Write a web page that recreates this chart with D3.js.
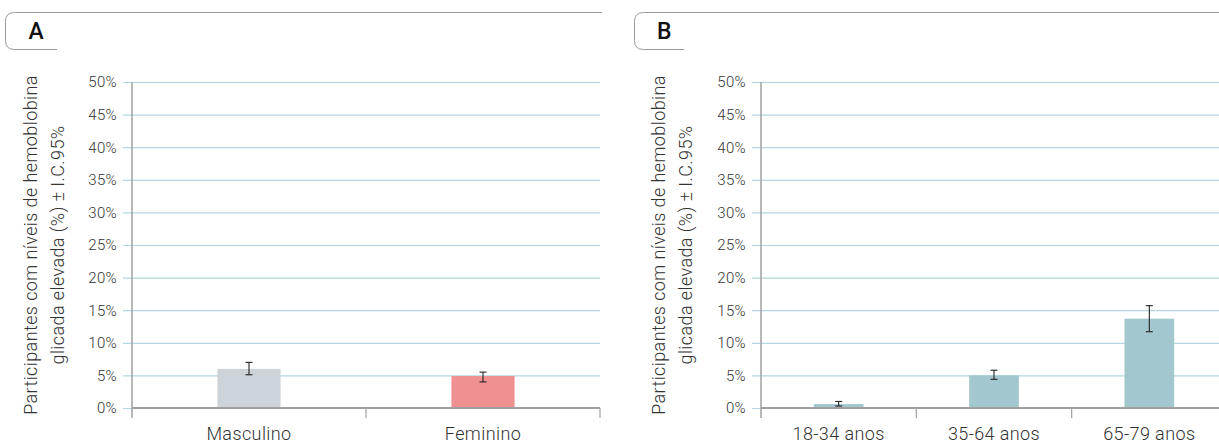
<!DOCTYPE html>
<html>
<head>
<meta charset="utf-8">
<script src="https://cdn.jsdelivr.net/npm/d3@7"></script>
<style>
  html, body { margin: 0; padding: 0; background: #fff; }
  svg { display: block; }
  text { font-family: Roboto, "Liberation Sans", sans-serif; fill: #333; }
</style>
</head>
<body>
<svg id="chart" width="1219" height="443"></svg>
<script>
// Panel A: by sex
const sexCategories = ["Masculino", "Feminino"];
const sexValues = [6.0, 4.9];
const sexLower = [5.1, 4.0];
const sexUpper = [7.0, 5.5];
const sexColors = ["#ccd4d9", "#f09090"];

// Panel B: by age group
const ageCategories = ["18-34 anos", "35-64 anos", "65-79 anos"];
const ageValues = [0.6, 5.0, 13.7];
const ageLower = [0.3, 4.4, 11.7];
const ageUpper = [1.0, 5.8, 15.7];
const ageColors = ["#a3c7cf", "#a3c7cf", "#a3c7cf"];

const yTicks = [0, 5, 10, 15, 20, 25, 30, 35, 40, 45, 50];
const yTitleLines = ["Participantes com níveis de hemoblobina", "glicada elevada (%) ± I.C.95%"];

const svg = d3.select("#chart");

function header(g, letter, x0, x1, boxRight) {
  const top = 12.5, bottom = 49.5, r = 9;
  g.append("path")
    .attr("d", `M${x1},${top} L${x0 + r},${top} Q${x0},${top} ${x0},${top + r} L${x0},${bottom - r} Q${x0},${bottom} ${x0 + r},${bottom} L${boxRight},${bottom}`)
    .attr("fill", "none").attr("stroke", "#9a9a9a").attr("stroke-width", 1);
  g.append("text")
    .attr("x", x0 + (boxRight - x0) / 2 + 5).attr("y", 39)
    .attr("text-anchor", "middle")
    .style("font-family", "Roboto, 'Liberation Sans', sans-serif")
    .style("font-size", "23px").style("font-weight", 500).style("fill", "#111")
    .text(letter);
}

function panel(opts) {
  const { left, right, cats, vals, lo, hi, colors, barFrac, titleX } = opts;
  const g = svg.append("g");
  const y = d3.scaleLinear().domain([0, 50]).range([408, 82]);
  const x = d3.scaleBand().domain(cats).range([left, right]).padding(0);

  // grid lines with outward tick
  g.append("g").selectAll("line").data(yTicks).join("line")
    .attr("x1", left - 9).attr("x2", Math.min(right, 1219))
    .attr("y1", d => y(d) + 0.5).attr("y2", d => y(d) + 0.5)
    .attr("stroke", "#b3d6e0").attr("stroke-width", 1.2);

  // y tick labels
  g.append("g").selectAll("text").data(yTicks).join("text")
    .attr("x", left - 15).attr("y", d => y(d))
    .attr("dy", "0.36em").attr("text-anchor", "end")
    .style("font-size", "15px").style("font-weight", 300).style("letter-spacing", "0.3px")
    .text(d => d + "%");

  // bars
  const bw = x.bandwidth() * barFrac;
  g.append("g").selectAll("rect").data(cats).join("rect")
    .attr("x", (c) => x(c) + (x.bandwidth() - bw) / 2)
    .attr("width", bw)
    .attr("y", (c, i) => y(vals[i]))
    .attr("height", (c, i) => y(0) - y(vals[i]))
    .attr("fill", (c, i) => colors[i]);

  // error bars
  const eb = g.append("g").attr("stroke", "#222").attr("stroke-width", 1.1);
  cats.forEach((c, i) => {
    const cx = x(c) + x.bandwidth() / 2;
    eb.append("line").attr("x1", cx).attr("x2", cx).attr("y1", y(hi[i])).attr("y2", y(lo[i]));
    eb.append("line").attr("x1", cx - 3.5).attr("x2", cx + 3.5).attr("y1", y(hi[i])).attr("y2", y(hi[i]));
    eb.append("line").attr("x1", cx - 3.5).attr("x2", cx + 3.5).attr("y1", y(lo[i])).attr("y2", y(lo[i]));
  });

  // axes
  const axisColor = "#a0a0a0";
  g.append("line").attr("x1", left).attr("x2", left).attr("y1", y(50)).attr("y2", y(0) + 10)
    .attr("stroke", axisColor).attr("stroke-width", 1.5);
  g.append("line").attr("x1", left).attr("x2", Math.min(right, 1219)).attr("y1", y(0)).attr("y2", y(0))
    .attr("stroke", axisColor).attr("stroke-width", 1.8);
  const bounds = cats.slice(1).map(c => x(c)).concat([right]);
  g.append("g").selectAll("line").data(bounds).join("line")
    .attr("x1", d => d).attr("x2", d => d).attr("y1", y(0)).attr("y2", y(0) + 10)
    .attr("stroke", axisColor).attr("stroke-width", 1.2);

  // category labels
  g.append("g").selectAll("text").data(cats).join("text")
    .attr("x", c => x(c) + x.bandwidth() / 2).attr("y", 440)
    .attr("text-anchor", "middle")
    .style("font-size", "18px").style("font-weight", 300).style("letter-spacing", "0.4px")
    .text(c => c);

  // y title, two rotated lines
  const cy = (y(0) + y(50)) / 2;
  yTitleLines.forEach((t, i) => {
    g.append("text")
      .attr("transform", `translate(${titleX + i * 27},${cy}) rotate(-90)`)
      .attr("text-anchor", "middle")
      .style("font-size", "18px").style("font-weight", 300).style("letter-spacing", "0.4px")
      .text(t);
  });
}

header(svg.append("g"), "A", 5.5, 602, 57);
header(svg.append("g"), "B", 634.5, 1219, 684);

panel({ left: 132, right: 600, cats: sexCategories, vals: sexValues, lo: sexLower, hi: sexUpper,
        colors: sexColors, barFrac: 0.27, titleX: 37 });
panel({ left: 761, right: 1227, cats: ageCategories, vals: ageValues, lo: ageLower, hi: ageUpper,
        colors: ageColors, barFrac: 0.32, titleX: 665 });
</script>
</body>
</html>
